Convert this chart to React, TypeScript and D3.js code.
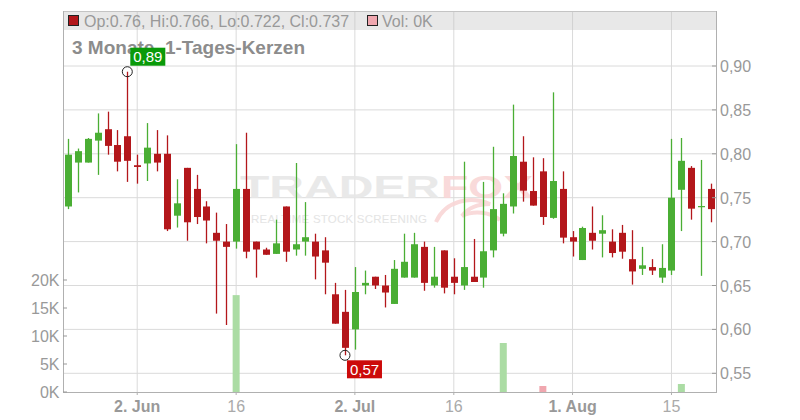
import React from "react";
import * as d3 from "d3";

// ---- data ----
const opens = [0.74,0.79,0.79,0.815,0.828,0.81,0.82,0.787,0.789,0.8,0.8,0.7295,0.784,0.76,0.74,0.71,0.7,0.7,0.76,0.7,0.691,0.686,0.74,0.691,0.7,0.7,0.69,0.64,0.62,0.6,0.65,0.66,0.65,0.629,0.659,0.659,0.694,0.65,0.69,0.66,0.65,0.66,0.659,0.69,0.709,0.74,0.791,0.7576,0.78,0.727,0.76,0.705,0.679,0.71,0.709,0.7,0.71,0.68,0.669,0.671,0.659,0.667,0.759,0.784,0.74,0.76];
const highs = [0.817,0.806,0.818,0.846,0.848,0.827,0.8935,0.799,0.835,0.827,0.821,0.771,0.784,0.776,0.746,0.733,0.72,0.811,0.824,0.7,0.693,0.725,0.74,0.7895,0.745,0.709,0.705,0.653,0.645,0.671,0.667,0.66,0.662,0.679,0.709,0.71,0.7,0.694,0.69,0.681,0.791,0.703,0.768,0.808,0.755,0.856,0.82,0.796,0.795,0.87,0.78,0.712,0.717,0.74,0.73,0.714,0.719,0.713,0.694,0.68,0.697,0.817,0.818,0.786,0.793,0.766];
const lows = [0.737,0.756,0.79,0.776,0.799,0.78,0.768,0.766,0.769,0.78,0.712,0.716,0.701,0.72,0.698,0.618,0.605,0.692,0.681,0.659,0.685,0.686,0.677,0.684,0.684,0.657,0.64,0.6065,0.5705,0.577,0.64,0.646,0.625,0.629,0.659,0.659,0.644,0.6475,0.641,0.64,0.645,0.654,0.6475,0.682,0.706,0.732,0.7455,0.741,0.719,0.726,0.698,0.683,0.679,0.691,0.682,0.682,0.6805,0.651,0.662,0.662,0.653,0.662,0.712,0.725,0.661,0.722];
const closes = [0.799,0.803,0.817,0.824,0.809,0.791,0.792,0.785,0.807,0.79,0.714,0.7436,0.722,0.728,0.724,0.701,0.694,0.76,0.6885,0.691,0.685,0.698,0.6885,0.697,0.705,0.683,0.676,0.6065,0.579,0.6426,0.653,0.65,0.642,0.669,0.677,0.697,0.653,0.66,0.6475,0.653,0.671,0.654,0.689,0.737,0.743,0.7975,0.758,0.741,0.728,0.769,0.7045,0.7,0.7155,0.701,0.713,0.687,0.6885,0.666,0.673,0.667,0.67,0.75,0.792,0.7375,0.7405,0.737];
const volumes = [0,0,0,0,0,0,0,0,0,0,0,0,0,0,0,0,0,17300,0,0,0,0,0,0,0,0,0,0,0,0,0,0,0,0,0,0,0,0,0,0,0,0,0,0,8750,0,0,0,1070,0,0,0,0,0,0,0,0,0,0,0,0,0,1430,0,0,0];
const dateTickIndex = [7, 17, 29, 39, 51, 61];
const dateTickLabels = ["2. Jun", "16", "2. Jul", "16", "1. Aug", "15"];
const dateTickBold = [true, false, true, false, true, false];
const priceTicks = [0.55, 0.6, 0.65, 0.7, 0.75, 0.8, 0.85, 0.9];
const volumeTicks = [0, 5000, 10000, 15000, 20000];
const maxIndex = 6;
const minIndex = 28;

const W = 800, H = 420;
const L = 63, R = 716, T = 11, B = 392;
const RED = "#b3171b", GREEN = "#4aae34";
const FONT = "'Liberation Sans', Arial, sans-serif";

export default function App() {
  const idx = d3.range(opens.length);
  const x = d3.scalePoint<number>().domain(idx).range([L, R]).padding(0.5);
  const y = d3.scaleLinear().domain([0.55, 0.9]).range([373.3, 66]);
  const yv = d3.scaleLinear().domain([0, 20000]).range([B, 280]);
  const bw = 7;
  const fmtP = (v: number) => d3.format(".2f")(v).replace(".", ",");
  const fmtV = (v: number) => `${v / 1000}K`;

  const hx = x(maxIndex)!, hy = y(highs[maxIndex]);
  const lx = x(minIndex)!, ly = y(lows[minIndex]);

  return (
    <svg width={W} height={H} style={{ position: "absolute", left: 0, top: 0, fontFamily: FONT }}>
      <rect x={0} y={0} width={W} height={H} fill="#fff" />
      {/* horizontal grid */}
      {priceTicks.map((p) => (
        <line key={"hg" + p} x1={L} x2={R} y1={y(p)} y2={y(p)} stroke="#dadada" strokeWidth={1} />
      ))}
      {/* vertical grid */}
      {dateTickIndex.map((i) => (
        <line key={"vg" + i} x1={x(i)} x2={x(i)} y1={T} y2={B} stroke="#dadada" strokeWidth={1} />
      ))}
      {/* watermark */}
      <g opacity={0.9}>
        <text x={240} y={198} fontSize={32} fontWeight="bold" fill="#e7e7e7" textLength={200} lengthAdjust="spacingAndGlyphs">TRADER</text>
        <text x={441} y={198} fontSize={32} fontWeight="bold" fill="#f9d6d6" textLength={92} lengthAdjust="spacingAndGlyphs">FOX</text>
        <text x={251} y={223} fontSize={11.5} fill="#e2e2e2" textLength={176} lengthAdjust="spacing">REALTIME STOCK SCREENING</text>
        <path d="M436,222 C446,200 470,196 490,204 C478,204 468,208 462,216 C474,210 490,212 500,220" fill="none" stroke="#f9d6d6" strokeWidth={4} />
      </g>
      {/* volume bars */}
      {volumes.map((v, i) =>
        v > 0 ? (
          <rect key={"v" + i} x={x(i)! - bw / 2} y={yv(v)} width={bw} height={B - yv(v)}
            fill={closes[i] >= opens[i] ? "#abdca4" : "#f0a7af"} />
        ) : null
      )}
      {/* candles */}
      {idx.map((i) => {
        const up = closes[i] >= opens[i];
        const c = up ? GREEN : RED;
        const top = y(Math.max(opens[i], closes[i]));
        const bot = y(Math.min(opens[i], closes[i]));
        const cx = Math.round(x(i)!) + 0.5;
        return (
          <g key={"c" + i}>
            <line x1={cx} x2={cx} y1={y(highs[i])} y2={y(lows[i])} stroke={c} strokeWidth={1.3} />
            <rect x={cx - bw / 2} y={top} width={bw} height={Math.max(1.2, bot - top)} fill={c} />
          </g>
        );
      })}
      {/* legend band */}
      <rect x={L} y={T} width={R - L} height={19} fill="#e4e4e4" opacity={0.85} />
      {dateTickIndex.map((i) => (
        <line key={"vg2" + i} x1={x(i)} x2={x(i)} y1={T} y2={T + 19} stroke="#d2d2d2" strokeWidth={1} />
      ))}
      <line x1={L} x2={R} y1={T + 0.5} y2={T + 0.5} stroke="#c4c4c4" />
      <rect x={68.5} y={15.5} width={10} height={10} fill={RED} stroke="#222" strokeWidth={1} />
      <text x={84} y={26.5} fontSize={16} fill="#999">
        Op:{opens[65]}, Hi:{highs[65]}, Lo:{lows[65]}, Cl:{closes[65]}
      </text>
      <rect x={367.5} y={15.5} width={10} height={10} fill="#f0a7af" stroke="#222" strokeWidth={1} />
      <text x={382} y={26.5} fontSize={16} fill="#999">Vol: {fmtV(volumes[65])}</text>
      <text x={72} y={53.5} fontSize={19} fontWeight="bold" fill="#8c8c8c">3 Monate, 1-Tages-Kerzen</text>
      {/* high / low markers */}
      <circle cx={hx} cy={hy} r={5} fill="none" stroke="#222" strokeWidth={1} />
      <rect x={hx + 3} y={hy - 24} width={35} height={18} fill="#0a9a0a" />
      <text x={hx + 20.5} y={hy - 9.5} fontSize={15} fill="#fff" textAnchor="middle">{fmtP(highs[maxIndex])}</text>
      <circle cx={lx} cy={ly} r={5} fill="none" stroke="#222" strokeWidth={1} />
      <rect x={lx + 2} y={ly + 5} width={35} height={18} fill="#cc0a0a" />
      <text x={lx + 19.5} y={ly + 19.5} fontSize={15} fill="#fff" textAnchor="middle">{fmtP(lows[minIndex])}</text>
      {/* axes */}
      <line x1={L + 0.5} x2={L + 0.5} y1={T} y2={B} stroke="#b0b0b0" />
      <line x1={R + 0.5} x2={R + 0.5} y1={T} y2={B} stroke="#b0b0b0" />
      <line x1={L} x2={R + 1} y1={B + 0.5} y2={B + 0.5} stroke="#b0b0b0" />
      {priceTicks.map((p) => (
        <g key={"pt" + p}>
          <line x1={R - 4} x2={R} y1={y(p)} y2={y(p)} stroke="#999" />
          <text x={720} y={y(p) + 6} fontSize={16} fill="#999">{fmtP(p)}</text>
        </g>
      ))}
      {volumeTicks.map((v) => (
        <g key={"vt" + v}>
          <line x1={L} x2={L + 4} y1={yv(v)} y2={yv(v)} stroke="#999" />
          <text x={59.5} y={yv(v) + 6} fontSize={16} fill="#999" textAnchor="end">{fmtV(v)}</text>
        </g>
      ))}
      {dateTickIndex.map((i, k) => (
        <g key={"dt" + i}>
          <line x1={x(i)} x2={x(i)} y1={B} y2={B + 3} stroke="#b0b0b0" />
          <text x={x(i)} y={411.5} fontSize={16} fill={dateTickBold[k] ? "#999" : "#aaa"}
            fontWeight={dateTickBold[k] ? "bold" : "normal"} textAnchor="middle">{dateTickLabels[k]}</text>
        </g>
      ))}
    </svg>
  );
}
